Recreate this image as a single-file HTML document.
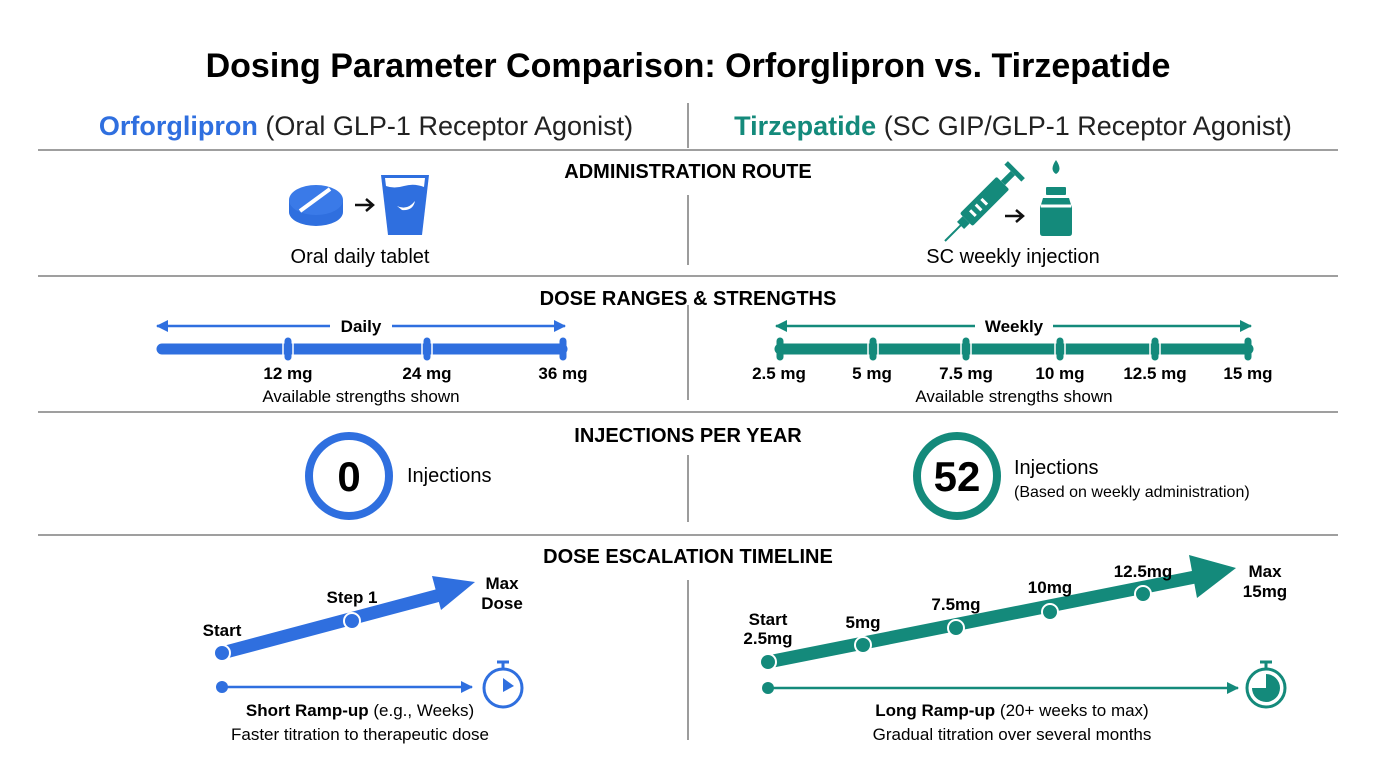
<!DOCTYPE html>
<html><head><meta charset="utf-8"><style>
body{margin:0;background:#fff;}
#c{position:relative;width:1376px;height:768px;overflow:hidden;font-family:"Liberation Sans",sans-serif;color:#111;}
</style></head><body><div id="c">
<svg width="1376" height="768" style="position:absolute;left:0;top:0" font-family="Liberation Sans, sans-serif">
<defs>
<marker id="ab" markerUnits="userSpaceOnUse" markerWidth="12" markerHeight="12" refX="11" refY="6" orient="auto"><path d="M0,0 L12,6 L0,12 z" fill="#2f6fdf"/></marker>
<marker id="abs" markerUnits="userSpaceOnUse" markerWidth="12" markerHeight="12" refX="1" refY="6" orient="auto"><path d="M12,0 L0,6 L12,12 z" fill="#2f6fdf"/></marker>
<marker id="at" markerUnits="userSpaceOnUse" markerWidth="12" markerHeight="12" refX="11" refY="6" orient="auto"><path d="M0,0 L12,6 L0,12 z" fill="#148a7b"/></marker>
<marker id="ats" markerUnits="userSpaceOnUse" markerWidth="12" markerHeight="12" refX="1" refY="6" orient="auto"><path d="M12,0 L0,6 L12,12 z" fill="#148a7b"/></marker>
</defs>
<text x="688" y="77" text-anchor="middle" font-size="34" font-weight="bold">Dosing Parameter Comparison: Orforglipron vs. Tirzepatide</text>
<text x="366" y="135" text-anchor="middle" font-size="27"><tspan fill="#2f6fdf" font-weight="bold">Orforglipron</tspan><tspan fill="#222"> (Oral GLP-1 Receptor Agonist)</tspan></text>
<text x="1013" y="135" text-anchor="middle" font-size="27"><tspan fill="#148a7b" font-weight="bold">Tirzepatide</tspan><tspan fill="#222"> (SC GIP/GLP-1 Receptor Agonist)</tspan></text>
<g stroke="#666" stroke-width="1.3">
<line x1="38" y1="150" x2="1338" y2="150"/><line x1="38" y1="276" x2="1338" y2="276"/>
<line x1="38" y1="412" x2="1338" y2="412"/><line x1="38" y1="535" x2="1338" y2="535"/>
<line x1="688" y1="103" x2="688" y2="148"/><line x1="688" y1="195" x2="688" y2="265"/>
<line x1="688" y1="305" x2="688" y2="400"/><line x1="688" y1="455" x2="688" y2="522"/>
<line x1="688" y1="580" x2="688" y2="740"/>
</g>
<g font-weight="bold" font-size="20" text-anchor="middle">
<text x="688" y="178">ADMINISTRATION ROUTE</text>
<text x="688" y="305">DOSE RANGES &amp; STRENGTHS</text>
<text x="688" y="442">INJECTIONS PER YEAR</text>
<text x="688" y="563">DOSE ESCALATION TIMELINE</text>
</g>
<!-- admin icons -->
<g fill="#2f6fdf">
<ellipse cx="316" cy="212" rx="27" ry="14"/><rect x="289" y="200" width="54" height="12"/>
<ellipse cx="316" cy="200" rx="27" ry="15" fill="#3a7ae8"/>
<line x1="300" y1="211" x2="330" y2="189" stroke="#fff" stroke-width="4"/>
<path d="M381 175 L429 175 L422 235 L388 235 z"/>
</g>
<path d="M385 178 L425 178 L424 187 Q414 183 404 186 Q394 189 386 186 z" fill="#fff"/>
<path d="M397 206 q10 5 18 -5 q-2 10 -13 9 z" fill="#fff"/>
<path d="M355 205 L372 205 M366 199 L373 205 L366 211" stroke="#111" stroke-width="2.5" fill="none"/>
<g transform="translate(986,200) rotate(-45)" fill="#148a7b">
<rect x="-28" y="-9" width="52" height="18" rx="2"/>
<rect x="24" y="-3" width="14" height="6"/>
<rect x="38" y="-12" width="5" height="24"/>
<rect x="-36" y="-5" width="8" height="10"/>
<rect x="-58" y="-1" width="24" height="2"/>
<rect x="-20" y="-4" width="3" height="8" fill="#fff"/><rect x="-12" y="-4" width="3" height="8" fill="#fff"/><rect x="-4" y="-4" width="3" height="8" fill="#fff"/>
</g>
<g fill="#148a7b">
<rect x="1046" y="187" width="20" height="8" rx="1"/>
<path d="M1043 198 L1069 198 L1072 208 L1072 233 Q1072 236 1069 236 L1043 236 Q1040 236 1040 233 L1040 208 z"/>
<path d="M1056 160 q-7 10 0 14 q7 -4 0 -14z"/>
</g>
<path d="M1041 206 L1071 206" stroke="#fff" stroke-width="3"/>
<path d="M1005 216 L1022 216 M1016 210 L1023 216 L1016 222" stroke="#111" stroke-width="2.5" fill="none"/>
<text x="360" y="263" text-anchor="middle" font-size="20">Oral daily tablet</text>
<text x="1013" y="263" text-anchor="middle" font-size="20">SC weekly injection</text>
<!-- dose ranges -->
<g stroke="#2f6fdf" stroke-width="2.5">
<line x1="157" y1="326" x2="330" y2="326" marker-start="url(#abs)"/>
<line x1="392" y1="326" x2="565" y2="326" marker-end="url(#ab)"/>
</g>
<line x1="162" y1="349" x2="562" y2="349" stroke="#2f6fdf" stroke-width="11" stroke-linecap="round"/>
<g stroke="#2f6fdf" stroke-width="7" stroke-linecap="round">
<line x1="288" y1="341" x2="288" y2="357"/><line x1="427" y1="341" x2="427" y2="357"/><line x1="563" y1="341" x2="563" y2="357"/>
</g>
<g stroke="#fff" stroke-width="1.5"><line x1="283" y1="343" x2="283" y2="355"/><line x1="293" y1="343" x2="293" y2="355"/><line x1="422" y1="343" x2="422" y2="355"/><line x1="432" y1="343" x2="432" y2="355"/></g>
<text x="361" y="332" text-anchor="middle" font-size="17" font-weight="bold">Daily</text>
<g font-size="17" font-weight="bold" text-anchor="middle">
<text x="288" y="379">12 mg</text><text x="427" y="379">24 mg</text><text x="563" y="379">36 mg</text>
</g>
<text x="361" y="402" text-anchor="middle" font-size="17">Available strengths shown</text>
<g stroke="#148a7b" stroke-width="2.5">
<line x1="776" y1="326" x2="975" y2="326" marker-start="url(#ats)"/>
<line x1="1053" y1="326" x2="1251" y2="326" marker-end="url(#at)"/>
</g>
<line x1="780" y1="349" x2="1248" y2="349" stroke="#148a7b" stroke-width="11" stroke-linecap="round"/>
<g stroke="#148a7b" stroke-width="7" stroke-linecap="round">
<line x1="780" y1="341" x2="780" y2="357"/><line x1="873" y1="341" x2="873" y2="357"/><line x1="966" y1="341" x2="966" y2="357"/><line x1="1060" y1="341" x2="1060" y2="357"/><line x1="1155" y1="341" x2="1155" y2="357"/><line x1="1248" y1="341" x2="1248" y2="357"/>
</g>
<g stroke="#fff" stroke-width="1.5"><line x1="868" y1="343" x2="868" y2="355"/><line x1="878" y1="343" x2="878" y2="355"/><line x1="961" y1="343" x2="961" y2="355"/><line x1="971" y1="343" x2="971" y2="355"/><line x1="1055" y1="343" x2="1055" y2="355"/><line x1="1065" y1="343" x2="1065" y2="355"/><line x1="1150" y1="343" x2="1150" y2="355"/><line x1="1160" y1="343" x2="1160" y2="355"/></g>
<text x="1014" y="332" text-anchor="middle" font-size="17" font-weight="bold">Weekly</text>
<g font-size="17" font-weight="bold" text-anchor="middle">
<text x="779" y="379">2.5 mg</text><text x="872" y="379">5 mg</text><text x="966" y="379">7.5 mg</text><text x="1060" y="379">10 mg</text><text x="1155" y="379">12.5 mg</text><text x="1248" y="379">15 mg</text>
</g>
<text x="1014" y="402" text-anchor="middle" font-size="17">Available strengths shown</text>
<!-- injections -->
<circle cx="349" cy="476" r="40" fill="none" stroke="#2f6fdf" stroke-width="8"/>
<text x="349" y="491" text-anchor="middle" font-size="42" font-weight="bold">0</text>
<text x="407" y="482" font-size="20">Injections</text>
<circle cx="957" cy="476" r="40" fill="none" stroke="#148a7b" stroke-width="8"/>
<text x="957" y="491" text-anchor="middle" font-size="42" font-weight="bold">52</text>
<text x="1014" y="474" font-size="20">Injections</text>
<text x="1014" y="497" font-size="16">(Based on weekly administration)</text>
<!-- timeline left -->
<line x1="222" y1="653" x2="440" y2="595" stroke="#2f6fdf" stroke-width="13"/>
<path d="M475 582 L441 610 L432 576 z" fill="#2f6fdf"/>
<circle cx="222" cy="653" r="8" fill="#2f6fdf" stroke="#fff" stroke-width="2"/>
<circle cx="352" cy="621" r="8" fill="#2f6fdf" stroke="#fff" stroke-width="2"/>
<g font-size="17" font-weight="bold" text-anchor="middle">
<text x="222" y="636">Start</text><text x="352" y="603">Step 1</text><text x="502" y="589">Max</text><text x="502" y="609">Dose</text>
</g>
<circle cx="222" cy="687" r="6" fill="#2f6fdf"/>
<line x1="222" y1="687" x2="472" y2="687" stroke="#2f6fdf" stroke-width="2.5" marker-end="url(#ab)"/>
<circle cx="503" cy="688" r="19" fill="none" stroke="#2f6fdf" stroke-width="3"/>
<line x1="503" y1="663" x2="503" y2="669" stroke="#2f6fdf" stroke-width="3"/><line x1="497" y1="662" x2="509" y2="662" stroke="#2f6fdf" stroke-width="3"/>
<path d="M503 678 L514 686 L503 692 z" fill="#2f6fdf"/>
<text x="360" y="716" text-anchor="middle" font-size="17"><tspan font-weight="bold">Short Ramp-up</tspan> (e.g., Weeks)</text>
<text x="360" y="740" text-anchor="middle" font-size="17">Faster titration to therapeutic dose</text>
<!-- timeline right -->
<line x1="768" y1="662" x2="1195" y2="577" stroke="#148a7b" stroke-width="13"/>
<path d="M1236 568 L1197 598 L1189 555 z" fill="#148a7b"/>
<g fill="#148a7b" stroke="#fff" stroke-width="2">
<circle cx="768" cy="662" r="8"/><circle cx="863" cy="645" r="8"/><circle cx="956" cy="628" r="8"/><circle cx="1050" cy="612" r="8"/><circle cx="1143" cy="594" r="8"/>
</g>
<g font-size="17" font-weight="bold" text-anchor="middle">
<text x="768" y="625">Start</text><text x="768" y="644">2.5mg</text>
<text x="863" y="628">5mg</text><text x="956" y="610">7.5mg</text><text x="1050" y="593">10mg</text><text x="1143" y="577">12.5mg</text>
<text x="1265" y="577">Max</text><text x="1265" y="597">15mg</text>
</g>
<circle cx="768" cy="688" r="6" fill="#148a7b"/>
<line x1="768" y1="688" x2="1238" y2="688" stroke="#148a7b" stroke-width="2.5" marker-end="url(#at)"/>
<circle cx="1266" cy="688" r="19" fill="none" stroke="#148a7b" stroke-width="3"/>
<line x1="1266" y1="663" x2="1266" y2="669" stroke="#148a7b" stroke-width="3"/><line x1="1260" y1="662" x2="1272" y2="662" stroke="#148a7b" stroke-width="3"/>
<path d="M1266 688 L1266 674 A14 14 0 1 1 1252 688 z" fill="#148a7b"/>
<text x="1012" y="716" text-anchor="middle" font-size="17"><tspan font-weight="bold">Long Ramp-up</tspan> (20+ weeks to max)</text>
<text x="1012" y="740" text-anchor="middle" font-size="17">Gradual titration over several months</text>
</svg>
</div></body></html>
